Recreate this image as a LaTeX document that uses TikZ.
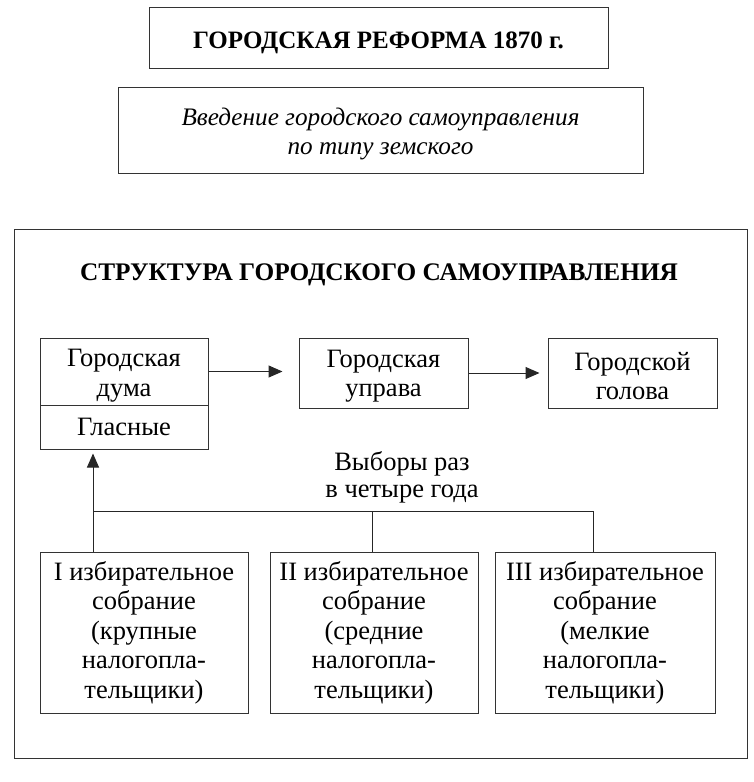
\documentclass[tikz,border=0pt]{standalone}
\usepackage{fontspec}
\setmainfont{Liberation Serif}
\usetikzlibrary{arrows.meta}
\begin{document}
\begin{tikzpicture}[x=1pt,y=-1pt,
  box/.style={draw=black!80, line width=1pt, rectangle, inner sep=0pt, align=center,
    font=\fontsize{26.5}{29.5}\selectfont},
  txt/.style={inner sep=0pt, align=center, font=\fontsize{26.5}{29.5}\selectfont},
  conn/.style={draw=black!85, line width=1pt},
  arr/.style={conn, -{Triangle[length=14pt,width=12pt]}},
  lbl/.style={align=center, inner sep=0pt, font=\fontsize{26.5}{27}\selectfont}]
\useasboundingbox (0,0) rectangle (754,782);
% top boxes
\node[box, minimum width=459pt, minimum height=61pt] (title) at (378.5,37.5) {};
\node[txt, font=\bfseries\fontsize{25}{30}\selectfont] (titletext) at ([yshift=-5pt]title.center) {ГОРОДСКАЯ РЕФОРМА 1870 г.};
\node[box, minimum width=525pt, minimum height=86pt] (intro) at (380.5,130) {};
\node[txt, font=\itshape\fontsize{25.2}{29}\selectfont] (introtext) at ([yshift=-4pt]intro.center) {Введение городского самоуправления\\по типу земского};
% big frame
\node[box, minimum width=732.5pt, minimum height=529pt] (frame) at (380.75,493.5) {};
\node[lbl, font=\bfseries\fontsize{25.3}{27}\selectfont] (stitle) at (379,275) {СТРУКТУРА ГОРОДСКОГО САМОУПРАВЛЕНИЯ};
% upper row
\node[box, minimum width=168pt, minimum height=67pt] (duma) at (124,371.5) {};
\node[txt] (dumatext) at ([yshift=-4pt]duma.center) {Городская\\дума};
\node[box, minimum width=168pt, minimum height=44pt] (glas) at (124,427) {Гласные};
\node[box, minimum width=169pt, minimum height=70pt] (upr) at (383.5,373) {};
\node[txt] (uprtext) at ([yshift=-3pt]upr.center) {Городская\\управа};
\node[box, minimum width=169pt, minimum height=70pt] (gol) at (632.5,373) {};
\node[txt] (goltext) at ([yshift=-3pt]gol.center) {Городской\\голова};
\draw[arr, shorten >=16pt] (duma.east) -- (duma.east -| upr.west);
\draw[arr, shorten >=8pt] (upr.east) -- (upr.east -| gol.west);
% lower row
\node[box, minimum width=208pt, minimum height=161pt] (s1) at (144,632.5) {I избирательное\\собрание\\(крупные\\налогопла-\\тельщики)};
\node[box, minimum width=208pt, minimum height=161pt] (s2) at (374,632.5) {II избирательное\\собрание\\(средние\\налогопла-\\тельщики)};
\node[box, minimum width=220pt, minimum height=161pt] (s3) at (605,632.5) {III избирательное\\собрание\\(мелкие\\налогопла-\\тельщики)};
% connectors
\coordinate (j1) at (93,511);
\coordinate (j2) at (372,511);
\coordinate (j3) at (593,511);
\draw[conn] (j1) -- (j3);
\draw[conn] (j2) -- (j2 |- s2.north);
\draw[conn] (j3) -- (j3 |- s3.north);
\draw[arr, shorten >=4pt] (j1 |- s1.north) -- (j1 |- glas.south);
\node[lbl] (vyb) at (402,477) {Выборы раз\\в четыре года};
\end{tikzpicture}
\end{document}
